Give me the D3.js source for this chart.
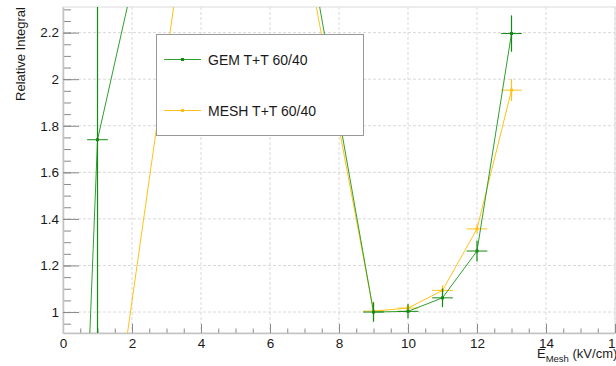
<!DOCTYPE html>
<html>
<head>
<meta charset="utf-8">
<script src="https://cdn.jsdelivr.net/npm/d3@7"></script>
<style>
  body { margin: 0; background: #fff; }
  text { font-family: "Liberation Sans", Arial, sans-serif; fill: #1a1a1a; }
</style>
</head>
<body>
<script>
// Series values
var gemX    = [0, 1, 2, 7, 9, 10, 11, 12, 13];
var gemY    = [-2.0, 1.74, 2.40, 2.68, 1.0, 1.003, 1.061, 1.262, 2.196];
var gemErr  = [0.05, 1.0, 0.05, 0.05, 0.042, 0.03, 0.04, 0.045, 0.078];

var meshX   = [1, 4, 7, 9, 10, 11, 12, 13];
var meshY   = [0.0, 3.14, 2.58, 1.004, 1.017, 1.093, 1.357, 1.953];
var meshErr = [0.03, 0.05, 0.05, 0.04, 0.018, 0.022, 0.018, 0.047];

var xErr = 0.3;
var xTicks = [0, 2, 4, 6, 8, 10, 12, 14, 16];
var yTicks = [1, 1.2, 1.4, 1.6, 1.8, 2, 2.2];
var legendLabels = ["GEM T+T 60/40", "MESH T+T 60/40"];

var svgWidth = 616, svgHeight = 366;
var frameL = 63, frameR = 615, frameT = 7, frameB = 333;

var svg = d3.select("body").append("svg")
  .attr("width", svgWidth)
  .attr("height", svgHeight);

var xScale = d3.scaleLinear().domain([0, 16]).range([frameL, frameR]);
var yScale = d3.scaleLinear().domain([0.91, 2.31]).range([frameB, frameT]);

// grid
svg.append("g").selectAll("line").data(xTicks).enter().append("line")
  .attr("x1", function(d) { return xScale(d); })
  .attr("x2", function(d) { return xScale(d); })
  .attr("y1", frameT).attr("y2", frameB)
  .attr("stroke", "#d9d9d9").attr("stroke-dasharray", "3,2");
svg.append("g").selectAll("line").data(yTicks).enter().append("line")
  .attr("x1", frameL).attr("x2", frameR)
  .attr("y1", function(d) { return yScale(d); })
  .attr("y2", function(d) { return yScale(d); })
  .attr("stroke", "#d9d9d9").attr("stroke-dasharray", "3,2");

// frame
svg.append("rect")
  .attr("x", frameL).attr("y", frameT)
  .attr("width", frameR - frameL).attr("height", frameB - frameT)
  .attr("fill", "none").attr("stroke", "#dcdcdc");

// minor ticks
var xMinor = d3.range(0, 16.01, 0.5);
var yMinor = d3.range(0.95, 2.31, 0.05);
svg.append("g")
  .attr("transform", "translate(0," + frameB + ")")
  .call(d3.axisBottom(xScale).tickValues(xMinor).tickSizeInner(-4.5).tickSizeOuter(0).tickFormat(""))
  .call(function(g) { g.select(".domain").remove(); g.selectAll("line").attr("stroke", "#8a8a8a"); });
svg.append("g")
  .attr("transform", "translate(" + frameL + ",0)")
  .call(d3.axisLeft(yScale).tickValues(yMinor).tickSizeInner(-8).tickSizeOuter(0).tickFormat(""))
  .call(function(g) { g.select(".domain").remove(); g.selectAll("line").attr("stroke", "#8a8a8a"); });

// major ticks with labels
svg.append("g")
  .attr("transform", "translate(0," + frameB + ")")
  .call(d3.axisBottom(xScale).tickValues(xTicks).tickSizeInner(-9).tickSizeOuter(0).tickPadding(5).tickFormat(d3.format("d")))
  .call(function(g) {
    g.select(".domain").attr("stroke", "#c4c4c4").attr("stroke-width", 1.5);
    g.selectAll("line").attr("stroke", "#8a8a8a");
    g.selectAll("text").attr("font-size", "13.5px").attr("fill", "#1a1a1a")
      .attr("font-family", "'Liberation Sans', Arial, sans-serif");
  });
svg.append("g")
  .attr("transform", "translate(" + frameL + ",0)")
  .call(d3.axisLeft(yScale).tickValues(yTicks).tickSizeInner(-16).tickSizeOuter(0).tickPadding(4)
    .tickFormat(function(d) { return d3.format("")(+d.toFixed(1)); }))
  .call(function(g) {
    g.select(".domain").attr("stroke", "#c4c4c4").attr("stroke-width", 1.5);
    g.selectAll("line").attr("stroke", "#8a8a8a");
    g.selectAll("text").attr("font-size", "13.5px").attr("fill", "#1a1a1a")
      .attr("font-family", "'Liberation Sans', Arial, sans-serif");
  });

// axis titles
var xt = svg.append("text").attr("x", 537).attr("y", 358).attr("font-size", "13px");
xt.append("tspan").text("E");
xt.append("tspan").attr("font-size", "9.5px").attr("dy", 4).text("Mesh");
xt.append("tspan").attr("dy", -4).text(" (kV/cm)");

svg.append("text")
  .attr("transform", "translate(24.5,7) rotate(-90)")
  .attr("text-anchor", "end")
  .attr("font-size", "13px")
  .text("Relative Integral");

// data
svg.append("clipPath").attr("id", "frame")
  .append("rect").attr("x", frameL).attr("y", frameT)
  .attr("width", frameR - frameL).attr("height", frameB - frameT);

var plot = svg.append("g").attr("clip-path", "url(#frame)");

function drawSeries(xs, ys, errs, lineColor, barColor) {
  var pts = xs.map(function(x, i) { return { x: x, y: ys[i], e: errs[i] }; });
  var line = d3.line()
    .x(function(d) { return xScale(d.x); })
    .y(function(d) { return yScale(d.y); });
  plot.append("path").datum(pts)
    .attr("d", line).attr("fill", "none")
    .attr("stroke", lineColor).attr("stroke-width", 1);
  var g = plot.append("g");
  g.selectAll(".ex").data(pts).enter().append("line")
    .attr("x1", function(d) { return xScale(d.x - xErr); })
    .attr("x2", function(d) { return xScale(d.x + xErr); })
    .attr("y1", function(d) { return yScale(d.y); })
    .attr("y2", function(d) { return yScale(d.y); })
    .attr("stroke", barColor).attr("stroke-width", 1);
  g.selectAll(".ey").data(pts).enter().append("line")
    .attr("x1", function(d) { return xScale(d.x); })
    .attr("x2", function(d) { return xScale(d.x); })
    .attr("y1", function(d) { return yScale(d.y - d.e); })
    .attr("y2", function(d) { return yScale(d.y + d.e); })
    .attr("stroke", barColor).attr("stroke-width", 1.2);
  g.selectAll("rect").data(pts).enter().append("rect")
    .attr("x", function(d) { return xScale(d.x) - 1.5; })
    .attr("y", function(d) { return yScale(d.y) - 1.5; })
    .attr("width", 3).attr("height", 3)
    .attr("fill", barColor);
}

drawSeries(meshX, meshY, meshErr, "#ffc21a", "#ffc21a");
drawSeries(gemX, gemY, gemErr, "#2ea02e", "#138a13");

// legend
var legend = svg.append("g");
legend.append("rect")
  .attr("x", 156.5).attr("y", 34.5).attr("width", 207).attr("height", 101)
  .attr("fill", "#fff").attr("stroke", "#999");
var legColors = ["#2ea02e", "#ffc21a"];
var legY = [59.5, 110.5];
legendLabels.forEach(function(lab, i) {
  legend.append("line")
    .attr("x1", 164).attr("x2", 201)
    .attr("y1", legY[i]).attr("y2", legY[i])
    .attr("stroke", legColors[i]).attr("stroke-width", 1);
  legend.append("rect")
    .attr("x", 181).attr("y", legY[i] - 1.5).attr("width", 3).attr("height", 3)
    .attr("fill", i === 0 ? "#138a13" : "#ffc21a");
  legend.append("text")
    .attr("x", 208).attr("y", legY[i] + 5)
    .attr("font-size", "14px")
    .text(lab);
});
</script>
</body>
</html>
